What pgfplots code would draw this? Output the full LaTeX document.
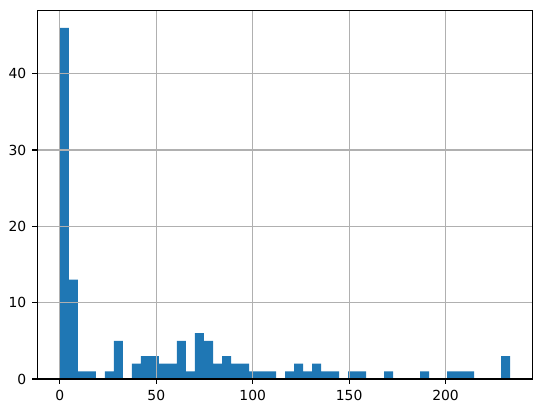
\documentclass[border=0pt]{standalone}
\usepackage{pgfplots}
\pgfplotsset{compat=1.18}
\usepackage{fontspec}
\setmainfont{DejaVu Sans}
\definecolor{mplblue}{HTML}{1F77B4}
\definecolor{gridgray}{HTML}{B0B0B0}
\begin{document}
\begin{tikzpicture}
\begin{axis}[
  name=ax,
  scale only axis,
  width=356.7pt, height=265.5pt,
  xmin=-11.7, xmax=245.2,
  ymin=0, ymax=48.3,
  xtick={0,50,100,150,200},
  ytick={0,10,20,30,40},
  grid=major,
  major grid style={color=gridgray, line width=0.8pt},
  axis line style={line width=0.8pt},
  tick style={black, line width=0.8pt},
  tick align=outside,
  major tick length=3.5pt,
  xtick pos=bottom, ytick pos=left,
  axis on top,
  tick label style={font=\fontsize{10}{12}\selectfont},
  /pgf/number format/assume math mode=true,
  xticklabel style={yshift=-1pt},
  yticklabel style={xshift=-1pt},
]
\addplot[ybar interval, fill=mplblue, draw=none] coordinates {
(0,46) (4.67,13) (9.34,1) (14.01,1) (18.68,0) (23.35,1) (28.02,5) (32.69,0) (37.36,2) (42.03,3)
(46.70,3) (51.37,2) (56.04,2) (60.71,5) (65.38,1) (70.05,6) (74.72,5) (79.39,2) (84.06,3) (88.73,2)
(93.40,2) (98.07,1) (102.74,1) (107.41,1) (112.08,0) (116.75,1) (121.42,2) (126.09,1) (130.76,2) (135.43,1)
(140.10,1) (144.77,0) (149.44,1) (154.11,1) (158.78,0) (163.45,0) (168.12,1) (172.79,0) (177.46,0) (182.13,0)
(186.80,1) (191.47,0) (196.14,0) (200.81,1) (205.48,1) (210.15,1) (214.82,0) (219.49,0) (224.16,0) (228.83,3)
(233.50,3)
};
\end{axis}
\path ([xshift=7.4pt,yshift=7.4pt]ax.north east);
\path ([xshift=-26.9pt,yshift=-24.5pt]ax.south west);
\end{tikzpicture}
\end{document}
